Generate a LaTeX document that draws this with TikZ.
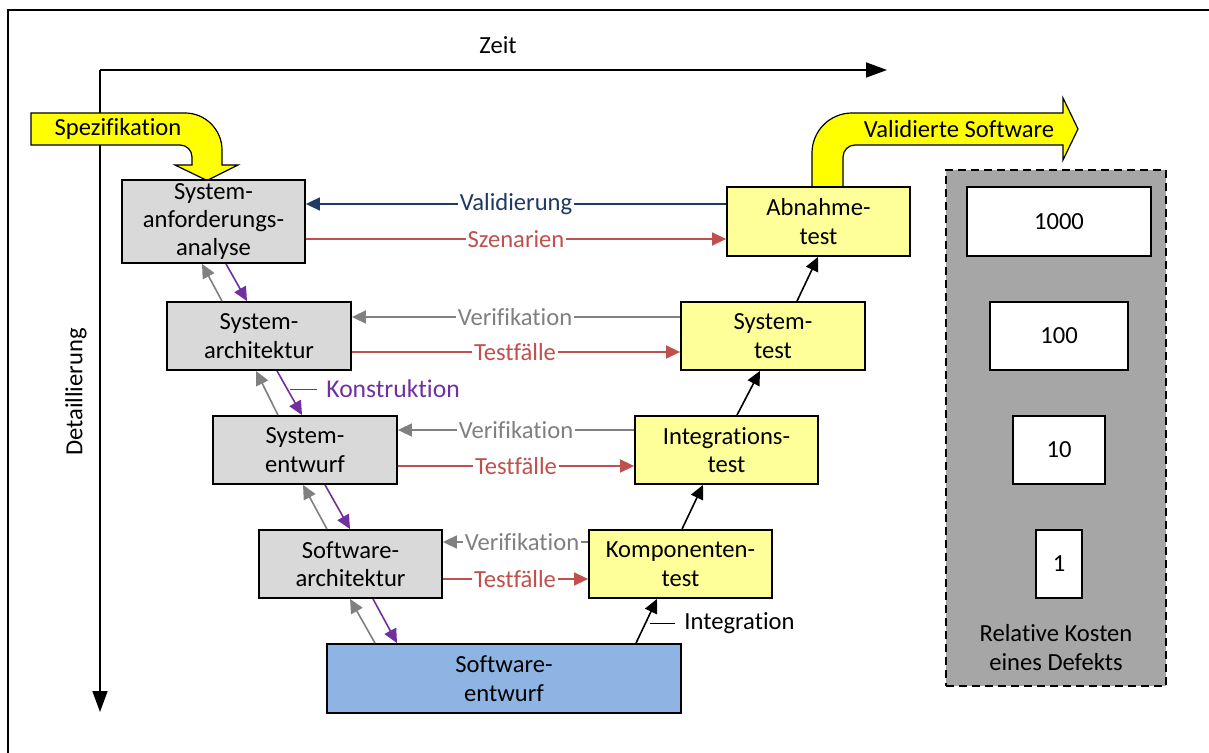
\documentclass[tikz,border=0pt]{standalone}
\usepackage{fontspec}
\setmainfont{Carlito}[Ligatures={NoCommon,NoContextual,NoRare}]
\usetikzlibrary{arrows.meta}
\definecolor{boxgray}{HTML}{D9D9D9}
\definecolor{boxyellow}{HTML}{FFFF99}
\definecolor{boxblue}{HTML}{8EB4E3}
\definecolor{arrowyellow}{HTML}{FFFF00}
\definecolor{panelgray}{HTML}{A6A6A6}
\definecolor{navy}{HTML}{1F3864}
\definecolor{redc}{HTML}{C0504D}
\definecolor{grayc}{HTML}{808080}
\definecolor{purplec}{HTML}{7030A0}
\begin{document}
\begin{tikzpicture}[x=0.5pt,y=-0.5pt,
  font=\fontsize{12.3}{14.2}\selectfont,
  box/.style={draw=black, line width=0.9pt, inner sep=0pt, align=center},
  gbox/.style={box, fill=boxgray},
  ybox/.style={box, fill=boxyellow},
  cbox/.style={box, fill=white},
  conn/.style={line width=0.8pt, -{Triangle[length=7pt,width=6.5pt]}},
  lbl/.style={fill=white, inner sep=1pt},
  axis/.style={line width=0.8pt},
  bent/.style={draw=black, line width=0.6pt, fill=arrowyellow},
  thinl/.style={line width=0.4pt}
]
\useasboundingbox (0,0) rectangle (1209,753);
% outer frame (clipped at right and bottom)
\draw[line width=1pt] (8,760) -- (8,10) -- (1215,10);

% axes
\coordinate (origin) at (100,70);
\coordinate (tend) at (887,70);
\coordinate (dend) at (100,712);
\draw[axis, -{Triangle[length=10.5pt,width=7.5pt]}] (origin) -- (tend);
\draw[axis, -{Triangle[length=10.5pt,width=7.5pt]}] (origin) -- (dend);
\node (zeit) at (498,45) {Zeit};
\node[rotate=90] (detail) at (76,392) {Detaillierung};

% bent arrows
\draw[bent] (31,113) -- (185,113) .. controls (205.4,113) and (222,129.6) .. (222,150)
  -- (222,165) -- (238,165) -- (207,180.5) -- (175,165) -- (192,165) -- (192,157)
  .. controls (192,150.4) and (186.6,145) .. (180,145) -- (31,145) -- cycle;
\node (spez) at (118,129) {Spezifikation};
\draw[bent] (812,187) -- (812,153) .. controls (812,130.9) and (829.9,113) .. (852,113)
  -- (1063,113) -- (1063,98) -- (1078,129) -- (1063,160) -- (1063,145) -- (855,145)
  .. controls (848.4,145) and (843,150.4) .. (843,157) -- (843,187) -- cycle;
\node (valsw) at (959,129) {Validierte Software};

% cost panel
\node[draw=black, line width=0.8pt, dash pattern=on 4pt off 2.5pt, fill=panelgray,
  minimum width=110pt, minimum height=258pt, inner sep=0pt] (panel) at (1056,428) {};
\node[cbox, minimum width=92pt, minimum height=34.5pt] (c1000) at (1059,221.5) {1000};
\node[cbox, minimum width=69pt, minimum height=34pt] (c100) at (1059,336) {100};
\node[cbox, minimum width=46pt, minimum height=34pt] (c10) at (1059,450) {10};
\node[cbox, minimum width=23pt, minimum height=34pt] (c1) at (1059,564) {1};
\node[align=center] (kosten) at (1056,647.5) {Relative Kosten\\eines Defekts};

% left column
\node[gbox, minimum width=91.5pt, minimum height=41.5pt] (s1) at (213.5,221.5) {System-\\anforderungs-\\analyse};
\node[gbox, minimum width=92pt, minimum height=34pt] (s2) at (259,336) {System-\\architektur};
\node[gbox, minimum width=92pt, minimum height=34pt] (s3) at (305,450) {System-\\entwurf};
\node[gbox, minimum width=91.5pt, minimum height=34pt] (s4) at (350.5,564) {Software-\\architektur};
\node[box, fill=boxblue, minimum width=177pt, minimum height=34.5pt] (s5) at (504,678.5) {Software-\\entwurf};

% right column
\node[ybox, minimum width=91.5pt, minimum height=34.5pt] (ab) at (818.5,221.5) {Abnahme-\\test};
\node[ybox, minimum width=92pt, minimum height=34pt] (st) at (773,336) {System-\\test};
\node[ybox, minimum width=91.5pt, minimum height=34pt] (it) at (726.5,450) {Integrations-\\test};
\node[ybox, minimum width=91.5pt, minimum height=34pt] (kt) at (680.5,564) {Komponenten-\\test};

% horizontal connectors
\draw[conn, navy] (ab.west |- 0,204) -- (s1.east |- 0,204);
\node[lbl, text=navy] (l1) at (516,204) {Validierung};
\draw[conn, redc] (s1.east |- 0,239) -- (ab.west |- 0,239);
\node[lbl, text=redc] (l2) at (516,239) {Szenarien};

\draw[conn, grayc] (st.west |- 0,317) -- (s2.east |- 0,317);
\node[lbl, text=grayc] (l3) at (515,317) {Verifikation};
\draw[conn, redc] (s2.east |- 0,352) -- (st.west |- 0,352);
\node[lbl, text=redc] (l4) at (515,352) {Testfälle};

\draw[conn, grayc] (it.west |- 0,430) -- (s3.east |- 0,430);
\node[lbl, text=grayc] (l5) at (516,430) {Verifikation};
\draw[conn, redc] (s3.east |- 0,466) -- (it.west |- 0,466);
\node[lbl, text=redc] (l6) at (516,466) {Testfälle};

\draw[conn, grayc] (kt.west |- 0,542) -- (s4.east |- 0,542);
\node[lbl, text=grayc] (l7) at (522,542) {Verifikation};
\draw[conn, redc] (s4.east |- 0,579) -- (kt.west |- 0,579);
\node[lbl, text=redc] (l8) at (515,579) {Testfälle};

% diagonal connectors, left
\draw[conn, grayc] (222,0 |- s2.north) -- (202,0 |- s1.south);
\draw[conn, purplec] (226,0 |- s1.south) -- (247,0 |- s2.north);
\draw[conn, grayc] (278,0 |- s3.north) -- (256,0 |- s2.south);
\draw[conn, purplec] (277,0 |- s2.south) -- (302,0 |- s3.north);
\draw[conn, grayc] (327,0 |- s4.north) -- (303,0 |- s3.south);
\draw[conn, purplec] (325,0 |- s3.south) -- (350,0 |- s4.north);
\draw[conn, grayc] (375,0 |- s5.north) -- (350,0 |- s4.south);
\draw[conn, purplec] (373,0 |- s4.south) -- (397,0 |- s5.north);

% Konstruktion label
\coordinate (kA) at (290,389);
\coordinate (kB) at (317,389);
\draw[thinl, purplec] (kA) -- (kB);
\node[anchor=west, text=purplec, inner sep=0pt, font=\fontsize{12.8}{14}\selectfont] (konst) at (326,389) {Konstruktion};

% diagonal connectors, right
\draw[conn, black] (636,0 |- s5.north) -- (657,0 |- kt.south);
\draw[conn, black] (682,0 |- kt.north) -- (703,0 |- it.south);
\draw[conn, black] (737,0 |- it.north) -- (760,0 |- st.south);
\draw[conn, black] (797,0 |- st.north) -- (818,0 |- ab.south);

% Integration label
\coordinate (iA) at (650,623);
\coordinate (iB) at (675,623);
\draw[thinl] (iA) -- (iB);
\node[anchor=west, inner sep=0pt] (integ) at (684,623) {Integration};
\end{tikzpicture}
\end{document}
